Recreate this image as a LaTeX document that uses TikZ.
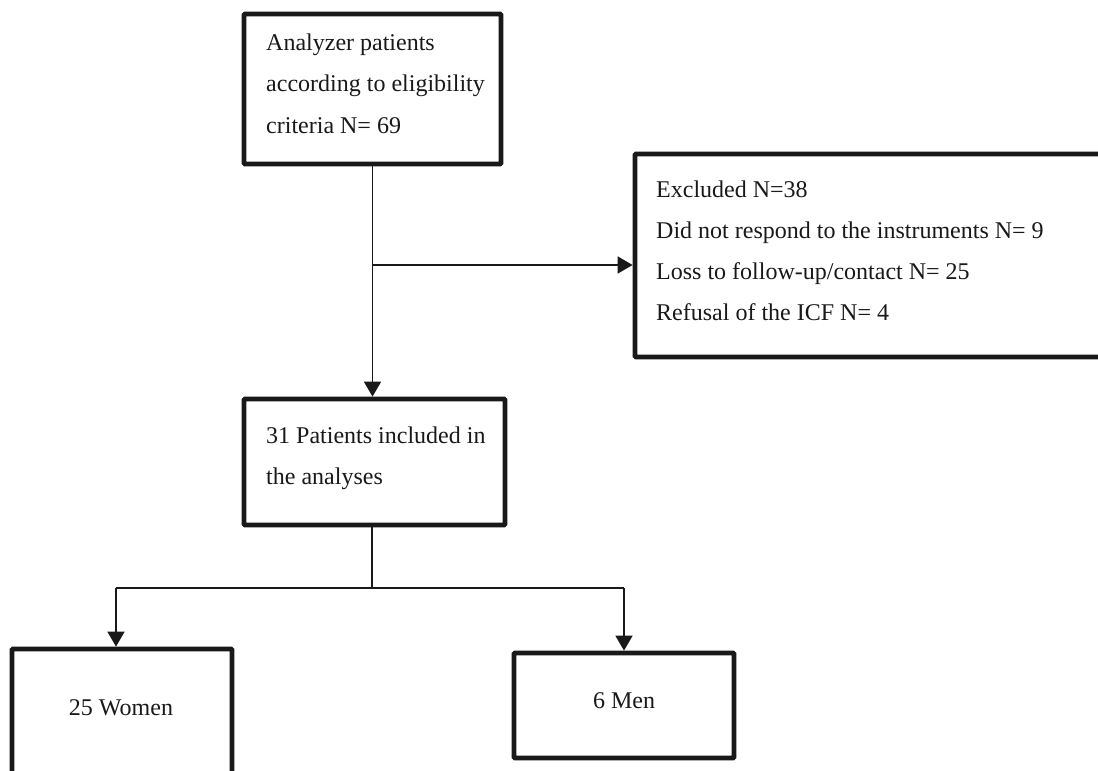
\documentclass[tikz,border=0pt]{standalone}
\usepackage{fontspec}
\setmainfont{Liberation Serif}
\usetikzlibrary{arrows.meta}
\begin{document}
\begin{tikzpicture}[x=1pt,y=-1pt,
  box/.style={draw=black!90, line width=4.8pt, rectangle, rounded corners=1pt, inner sep=0pt},
  conn/.style={draw=black!90, line width=1.8pt},
  arr/.style={conn, -{Triangle[length=15pt,width=17pt]}},
  txt/.style={anchor=base west, inner sep=0pt, text=black!90, font=\fontsize{24}{41}\selectfont},
  ctxt/.style={anchor=base, inner sep=0pt, text=black!90, font=\fontsize{24}{41}\selectfont}]
\clip (0,0) rectangle (1098,771);
\fill[white] (0,0) rectangle (1098,771);
% boxes
\node[box, minimum width=257pt, minimum height=150pt] (top) at (372.5,89) {};
\node[box, minimum width=485pt, minimum height=203pt] (excl) at (877.5,255.5) {};
\node[box, minimum width=261pt, minimum height=126pt] (inc) at (374.5,462) {};
\node[box, minimum width=220pt, minimum height=151pt] (women) at (122,724.5) {};
\node[box, minimum width=220pt, minimum height=105pt] (men) at (624,705.5) {};
% texts
\node[txt] (t1) at (266,50) {Analyzer patients};
\node[txt] (t2) at (266,91.5) {according to eligibility};
\node[txt] (t3) at (266,133) {criteria N= 69};
\node[txt] (e1) at (656,197) {Excluded N=38};
\node[txt] (e2) at (656,238) {Did not respond to the instruments N= 9};
\node[txt] (e3) at (656,279) {Loss to follow-up/contact N= 25};
\node[txt] (e4) at (656,320) {Refusal of the ICF N= 4};
\node[txt] (i1) at (266,443) {31 Patients included in};
\node[txt] (i2) at (266,484) {the analyses};
\node[ctxt] (w1) at (121,715) {25 Women};
\node[ctxt] (m1) at (624,708) {6 Men};
% connectors
\draw[arr] (top.south) -- (top.south |- inc.north);
\coordinate (jx) at (373,265);
\draw[arr] (jx) -- (jx -| excl.west);
\coordinate (jb) at (372,588);
\draw[conn] (jb |- inc.south) -- (jb);
\coordinate (wl) at (116,588);
\coordinate (ml) at (624,588);
\draw[conn] (wl) -- (ml);
\draw[arr] (wl) -- (wl |- women.north);
\draw[arr] (ml) -- (ml |- men.north);
\end{tikzpicture}
\end{document}
